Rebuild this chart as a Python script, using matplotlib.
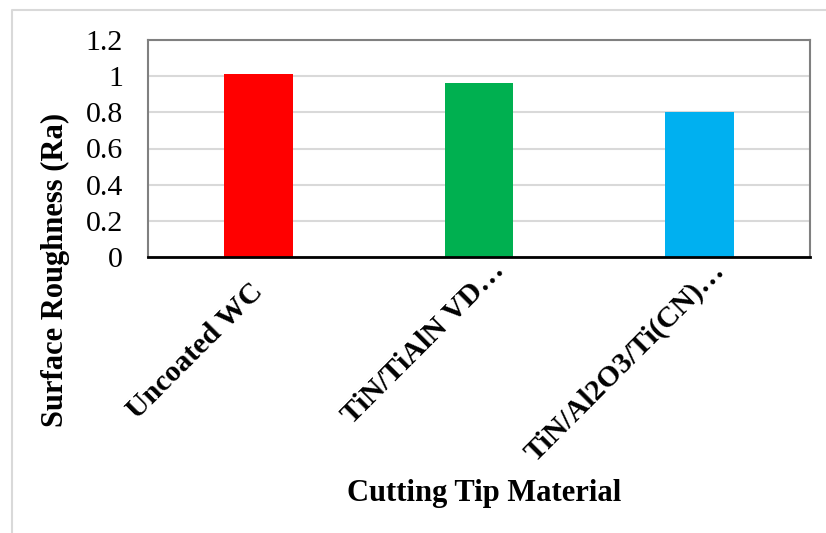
import matplotlib.pyplot as plt
from matplotlib.lines import Line2D
from matplotlib.transforms import ScaledTranslation

plt.rcParams['font.family'] = ['Liberation Serif', 'DejaVu Serif']

materials = ["Uncoated WC", "TiN/TiAlN VD\u2026", "TiN/Al2O3/Ti(CN)\u2026"]
roughness = [1.01, 0.96, 0.80]
bar_colors = ["#ff0000", "#00b050", "#00b0f0"]
y_ticks = [0, 0.2, 0.4, 0.6, 0.8, 1, 1.2]
y_tick_labels = ["0", "0.2", "0.4", "0.6", "0.8", "1", "1.2"]

tick_size = 21.5
title_size = 22

fig = plt.figure(figsize=(8.26, 5.33), dpi=100)
ax = fig.add_axes([148 / 826, 276 / 533, 662 / 826, 217 / 533])

x = range(len(materials))
ax.bar(x, roughness, width=0.31, color=bar_colors, zorder=3)

ax.set_xlim(-0.5, len(materials) - 0.5)
ax.set_ylim(0, 1.2)
ax.set_yticks(y_ticks)
ax.set_yticklabels(y_tick_labels, fontsize=tick_size)
ax.yaxis.grid(True, color="#d9d9d9", linewidth=1.5, zorder=0)
ax.tick_params(axis="y", length=0, pad=18)
ax.tick_params(axis="x", length=0, pad=22)

ax.set_xticks(list(x))
ax.set_xticklabels(materials, fontsize=tick_size, fontweight="bold", rotation=45,
                   ha="right", va="center", rotation_mode="anchor")

# truncated labels are placed as if the trailing ellipsis were not there
shift = tick_size * 0.707 / 72
for lbl in ax.get_xticklabels():
    if lbl.get_text().endswith("\u2026"):
        lbl.set_transform(lbl.get_transform() + ScaledTranslation(shift, shift, fig.dpi_scale_trans))

for side in ["left", "top", "right"]:
    ax.spines[side].set_color("#808080")
    ax.spines[side].set_linewidth(1.5)
ax.spines["bottom"].set_color("#000000")
ax.spines["bottom"].set_linewidth(2)
ax.spines["bottom"].set_zorder(4)

fig.text(55 / 826, 1 - 270 / 533, "Surface Roughness (Ra)", rotation=90,
         ha="center", va="center", fontsize=title_size, fontweight="bold")
fig.text(484 / 826, 1 - 493 / 533, "Cutting Tip Material",
         ha="center", va="center", fontsize=title_size, fontweight="bold")

# thin chart-area border
fig.add_artist(Line2D([12 / 826, 12 / 826, 1.0], [0.0, 1 - 10 / 533, 1 - 10 / 533],
                      transform=fig.transFigure, color="#d9d9d9", linewidth=1.5))

fig.savefig("out.png", dpi=100)
